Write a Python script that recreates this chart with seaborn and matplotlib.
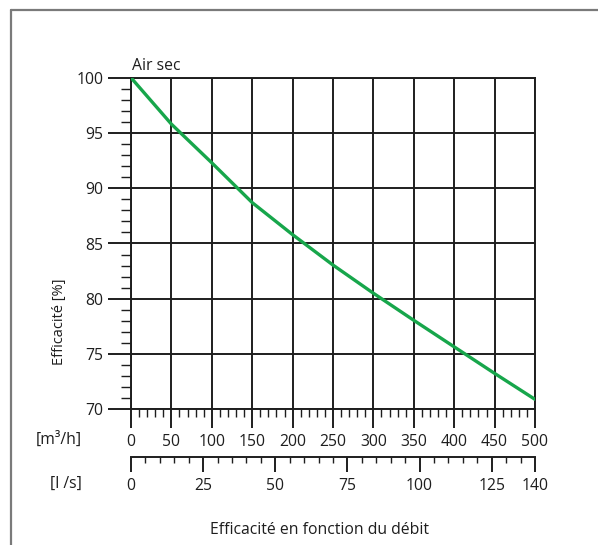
import numpy as np
import pandas as pd
import matplotlib
matplotlib.use("Agg")
import matplotlib.pyplot as plt
from matplotlib.lines import Line2D
from matplotlib.ticker import MultipleLocator, FixedLocator
import seaborn as sns

# ---- data ----
debit_m3h = [0, 50, 100, 150, 200, 250, 300, 350, 400, 450, 500]
efficacite = [100.0, 95.8, 92.3, 88.7, 85.8, 83.05, 80.5, 78.05, 75.65, 73.25, 70.9]
m3h_ticks = [0, 50, 100, 150, 200, 250, 300, 350, 400, 450, 500]
ls_ticks = [0, 25, 50, 75, 100, 125, 140]
y_ticks = [70, 75, 80, 85, 90, 95, 100]

title = "Efficacité en fonction du débit"
ylabel = "Efficacité [%]"
series_label = "Air sec"

sns.set_theme(style="white")
plt.rcParams['font.family'] = ['Open Sans', 'DejaVu Sans']

W, H = 598, 545
fig = plt.figure(figsize=(W / 100, H / 100), dpi=100)
fig.patch.set_facecolor("white")

def fx(px):
    return px / W

def fy(py):
    return 1 - py / H

FS = 11.3
x0, x1 = 131, 535
y0, y1 = 77.7, 409.3
ax = fig.add_axes([fx(x0), fy(y1), fx(x1) - fx(x0), fy(y0) - fy(y1)])

df = pd.DataFrame({"debit": debit_m3h, "eff": efficacite})
sns.lineplot(data=df, x="debit", y="eff", ax=ax, color="#17a64b", lw=2.4,
             zorder=5)

ax.set_xlim(0, 500)
ax.set_ylim(70, 100)
ax.set_xlabel("")
ax.set_ylabel("")

ink = "#1e1e1e"
for s in ax.spines.values():
    s.set_color(ink)
    s.set_linewidth(1.4)

ax.xaxis.set_major_locator(FixedLocator(m3h_ticks))
ax.xaxis.set_minor_locator(MultipleLocator(10))
ax.yaxis.set_major_locator(FixedLocator(y_ticks))
ax.yaxis.set_minor_locator(MultipleLocator(1))
ax.grid(True, which="major", color=ink, lw=1.4)
ax.set_axisbelow(True)

ax.tick_params(axis="x", which="major", direction="out", length=13.5, width=1.4,
               color=ink, pad=4, labelsize=FS, labelcolor=ink,
               bottom=True, top=False)
ax.tick_params(axis="x", which="minor", direction="out", length=6, width=1.0,
               color=ink, bottom=True, top=False)
ax.tick_params(axis="y", which="major", direction="out", length=16.5, width=1.4,
               color=ink, pad=3.5, labelsize=FS, labelcolor=ink,
               left=True, right=False)
ax.tick_params(axis="y", which="minor", direction="out", length=7.5, width=1.0,
               color=ink, left=True, right=False)
# emphasised 350 tick
for t in ax.xaxis.get_major_ticks():
    if abs(t.get_loc() - 350) < 1e-6:
        t.tick1line.set_markeredgewidth(2.6)

# second scale (l/s)
sec = ax.secondary_xaxis((456.7 - y1) / (y1 - y0) * -1,
                         functions=(lambda v: v * 140 / 500, lambda v: v * 500 / 140))
sec.xaxis.set_major_locator(FixedLocator(ls_ticks))
sec.xaxis.set_minor_locator(MultipleLocator(5))
sec.spines["bottom"].set_color(ink)
sec.spines["bottom"].set_linewidth(1.4)
sec.tick_params(axis="x", which="major", direction="out", length=11, width=1.4,
                color=ink, pad=4, labelsize=FS, labelcolor=ink)
sec.tick_params(axis="x", which="minor", direction="out", length=4.5, width=1.0,
                color=ink)

# texts
fig.text(fx(82), fy(440), "[m³/h]", ha="right", va="center", fontsize=FS, color=ink)
fig.text(fx(82), fy(484), "[l /s]", ha="right", va="center", fontsize=FS, color=ink)
fig.text(fx(59), fy(322), ylabel, ha="center", va="center", rotation=90,
         fontsize=10.5, color=ink)
fig.text(fx(132), fy(66), series_label, ha="left", va="center", fontsize=FS, color=ink)
fig.text(fx(320), fy(530), title, ha="center", va="center", fontsize=FS, color=ink)

# outer frame (top and left only)
frame_c = "#7a7a7a"
fig.add_artist(Line2D([fx(11), fx(11)], [fy(10), 0], transform=fig.transFigure,
                      color=frame_c, lw=1.6))
fig.add_artist(Line2D([fx(11), 1], [fy(10), fy(10)], transform=fig.transFigure,
                      color=frame_c, lw=1.6))

fig.savefig("out.png", dpi=100, facecolor="white")
